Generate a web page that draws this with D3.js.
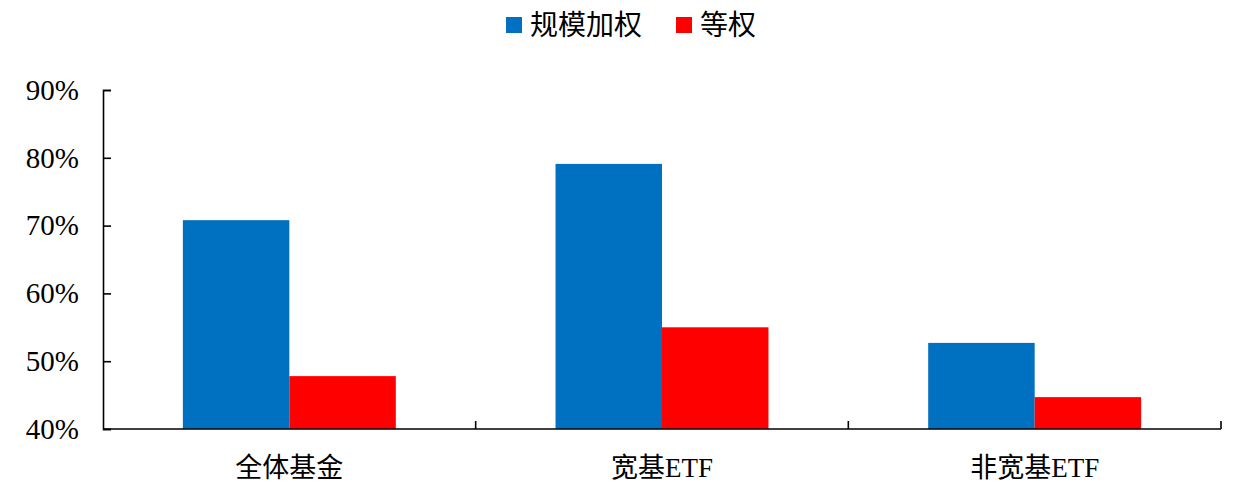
<!DOCTYPE html>
<html>
<head>
<meta charset="utf-8">
<script src="https://cdn.jsdelivr.net/npm/d3@7"></script>
<style>
  html, body { margin: 0; padding: 0; background: #fff; }
  svg { display: block; }
  .axis path, .axis line { stroke: #000; stroke-width: 1.6; }
  .axis text { fill: #000; }
</style>
</head>
<body>
<div id="chart"></div>
<script>
// Bar chart: 规模加权 vs 等权 across three fund groups.
const categories = ["全体基金", "宽基ETF", "非宽基ETF"];
const seriesNames = ["规模加权", "等权"];
const seriesColors = ["#0070C0", "#FF0000"];
const sizeWeighted = [0.708, 0.791, 0.527];
const equalWeighted = [0.478, 0.550, 0.447];
const yTicks = [0.4, 0.5, 0.6, 0.7, 0.8, 0.9];

(function () {
  "use strict";
  const W = 1236, H = 495, m = { t: 90, r: 15, b: 66, l: 103 };
  const svg = d3.select("#chart").append("svg").attr("width", W).attr("height", H);

  const x0 = d3.scaleBand().domain(categories).range([m.l, W - m.r]).padding(0);
  const x1 = d3.scaleBand().domain(seriesNames).range([0, x0.bandwidth()])
    .paddingInner(0).paddingOuter(0.75);
  const y = d3.scaleLinear().domain([0.4, 0.9]).range([H - m.b, m.t]);

  const values = [sizeWeighted, equalWeighted];

  // bars
  categories.forEach((c, i) => {
    const g = svg.append("g").attr("transform", `translate(${x0(c)},0)`);
    seriesNames.forEach((s, j) => {
      g.append("rect")
        .attr("x", x1(s)).attr("width", x1.bandwidth())
        .attr("y", y(values[j][i])).attr("height", y(0.4) - y(values[j][i]))
        .attr("fill", seriesColors[j]);
    });
  });

  // y axis, ticks pointing inward
  const yAxis = svg.append("g").attr("class", "axis").attr("transform", `translate(${m.l},0)`)
    .call(d3.axisLeft(y).tickValues(yTicks).tickFormat(d3.format(".0%"))
      .tickSizeInner(-8).tickSizeOuter(-8).tickPadding(24));
  yAxis.selectAll("text").style("font-family", "'Liberation Serif', 'Times New Roman', serif")
    .style("font-size", "29px");

  // x axis: baseline, category boundary ticks pointing up, labels centred
  const xg = svg.append("g").attr("class", "axis");
  xg.append("line").attr("x1", m.l).attr("x2", W - m.r).attr("y1", y(0.4)).attr("y2", y(0.4));
  const bounds = categories.slice(1).map((c) => x0(c)).concat([x0.range()[1]]);
  xg.selectAll(".sep").data(bounds).join("line").attr("class", "sep")
    .attr("x1", (d) => d).attr("x2", (d) => d)
    .attr("y1", y(0.4)).attr("y2", y(0.4) - 8);
  xg.selectAll(".lbl").data(categories).join("text").attr("class", "lbl")
    .attr("x", (d) => x0(d) + x0.bandwidth() / 2).attr("y", y(0.4) + 48)
    .attr("text-anchor", "middle")
    .style("font-family", "'Liberation Serif', 'Noto Sans CJK SC', serif")
    .style("font-size", "27px").text((d) => d);

  // legend
  const leg = [{ x: 506, tx: 530 }, { x: 676, tx: 700 }];
  seriesNames.forEach((s, j) => {
    svg.append("rect").attr("x", leg[j].x).attr("y", 17).attr("width", 16).attr("height", 16)
      .attr("fill", seriesColors[j]);
    svg.append("text").attr("x", leg[j].tx).attr("y", 35)
      .style("font-family", "'Noto Sans CJK SC', sans-serif").style("font-size", "28px")
      .attr("fill", "#000").text(s);
  });
})();
</script>
</body>
</html>
